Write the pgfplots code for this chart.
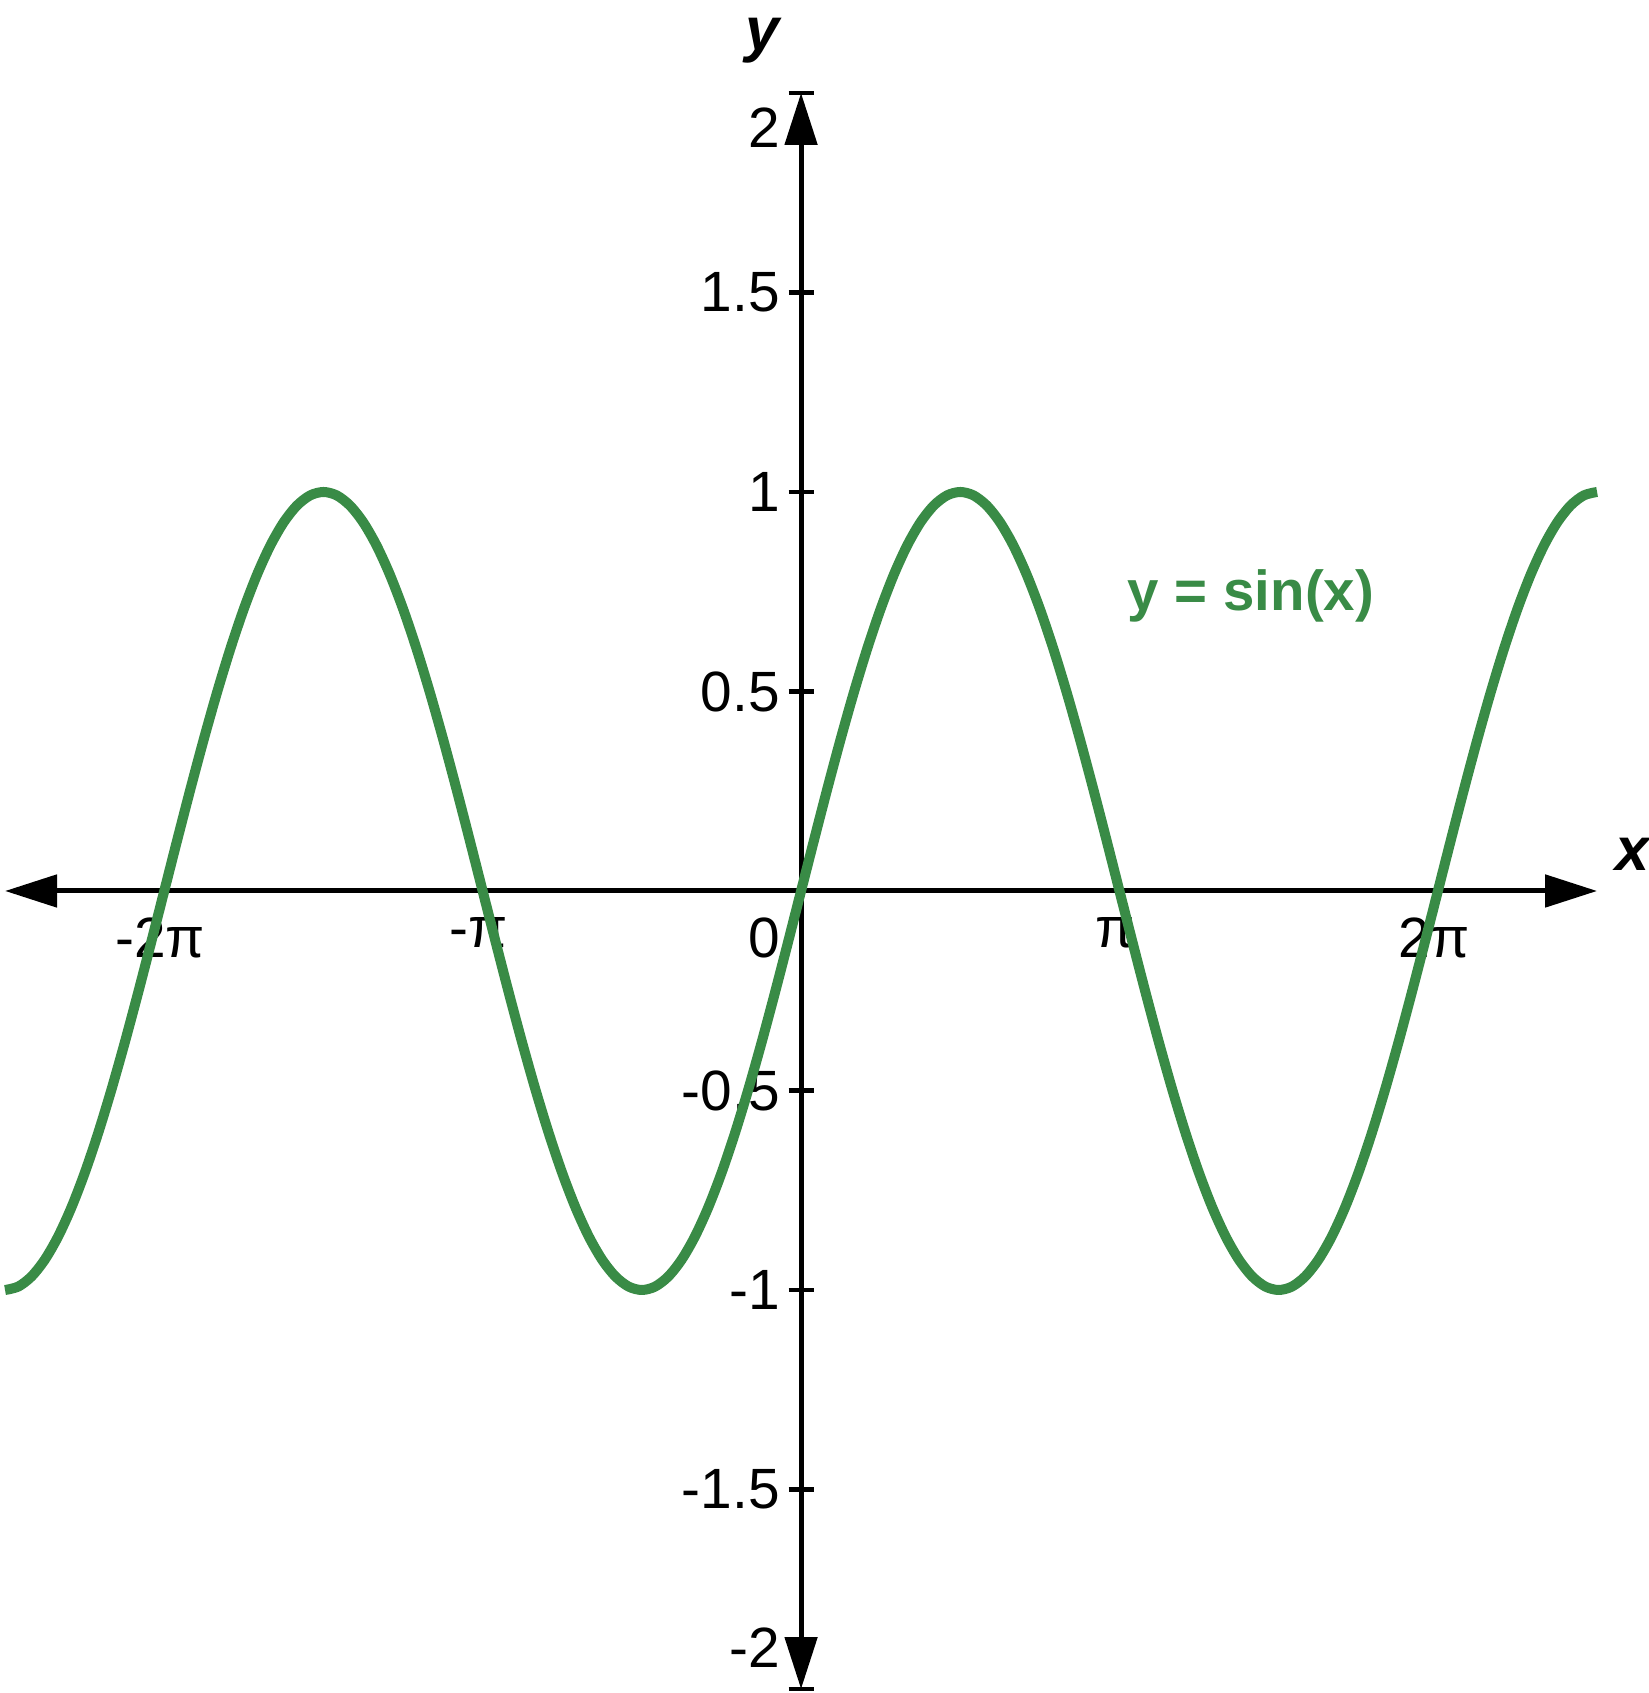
\documentclass[border=0pt]{standalone}
\usepackage{pgfplots}
\pgfplotsset{compat=1.18}
\usepackage{pgfplotstable}
\usepackage{fontspec}
\setmainfont{Liberation Sans}
\usetikzlibrary{arrows.meta}
\definecolor{sgreen}{RGB}{57,139,70}
% x in units of pi/12
\pgfplotstableread{
x y
-30 -1
-29.5 -0.991445
-29 -0.965926
-28.5 -0.923880
-28 -0.866025
-27.5 -0.793353
-27 -0.707107
-26.5 -0.608761
-26 -0.5
-25.5 -0.382683
-25 -0.258819
-24.5 -0.130526
-24 0
-23.5 0.130526
-23 0.258819
-22.5 0.382683
-22 0.5
-21.5 0.608761
-21 0.707107
-20.5 0.793353
-20 0.866025
-19.5 0.923880
-19 0.965926
-18.5 0.991445
-18 1
-17.5 0.991445
-17 0.965926
-16.5 0.923880
-16 0.866025
-15.5 0.793353
-15 0.707107
-14.5 0.608761
-14 0.5
-13.5 0.382683
-13 0.258819
-12.5 0.130526
-12 0
-11.5 -0.130526
-11 -0.258819
-10.5 -0.382683
-10 -0.5
-9.5 -0.608761
-9 -0.707107
-8.5 -0.793353
-8 -0.866025
-7.5 -0.923880
-7 -0.965926
-6.5 -0.991445
-6 -1
-5.5 -0.991445
-5 -0.965926
-4.5 -0.923880
-4 -0.866025
-3.5 -0.793353
-3 -0.707107
-2.5 -0.608761
-2 -0.5
-1.5 -0.382683
-1 -0.258819
-0.5 -0.130526
0 0
0.5 0.130526
1 0.258819
1.5 0.382683
2 0.5
2.5 0.608761
3 0.707107
3.5 0.793353
4 0.866025
4.5 0.923880
5 0.965926
5.5 0.991445
6 1
6.5 0.991445
7 0.965926
7.5 0.923880
8 0.866025
8.5 0.793353
9 0.707107
9.5 0.608761
10 0.5
10.5 0.382683
11 0.258819
11.5 0.130526
12 0
12.5 -0.130526
13 -0.258819
13.5 -0.382683
14 -0.5
14.5 -0.608761
15 -0.707107
15.5 -0.793353
16 -0.866025
16.5 -0.923880
17 -0.965926
17.5 -0.991445
18 -1
18.5 -0.991445
19 -0.965926
19.5 -0.923880
20 -0.866025
20.5 -0.793353
21 -0.707107
21.5 -0.608761
22 -0.5
22.5 -0.382683
23 -0.258819
23.5 -0.130526
24 0
24.5 0.130526
25 0.258819
25.5 0.382683
26 0.5
26.5 0.608761
27 0.707107
27.5 0.793353
28 0.866025
28.5 0.923880
29 0.965926
29.5 0.991445
30 1
}\sinedata
\begin{document}
\begin{tikzpicture}
\begin{axis}[
  scale only axis, width=398pt, height=399pt,
  axis lines=middle,
  xmin=-30, xmax=30, ymin=-2, ymax=2,
  enlargelimits=false,
  clip=false,
  axis line style={line width=1.25pt,
    {Triangle[length=13pt,width=8pt]}-{Triangle[length=13pt,width=8pt]}},
  xtick={-24,-12,12,24},
  xticklabels={-2π,-π,π,2π},
  xtick style={draw=none},
  xticklabel style={anchor=north, inner sep=0pt, yshift=-3.4pt, xshift=-1pt, font=\fontsize{14.2}{17}\selectfont},
  ytick={-2,-1.5,-1,-0.5,0.5,1,1.5,2},
  yticklabels={,-1.5,-1,-0.5,0.5,1,1.5,},
  ytick align=center,
  major tick length=6.25pt,
  ytick style={line width=1.1pt, black},
  yticklabel style={anchor=east, inner sep=0pt, xshift=-2pt, font=\fontsize{14.2}{17}\selectfont},
  hide obscured x ticks=false,
  hide obscured y ticks=false,
]
\addplot[sgreen, line width=2.5pt, smooth, line join=round] table[x=x, y=y] {\sinedata};
\node[anchor=base west, inner sep=0pt, text=sgreen, font=\fontsize{14.1}{17}\selectfont\bfseries] at (axis cs:12.29,0.704) {y = sin(x)};
\node[anchor=north east, inner sep=0pt, xshift=-5pt, yshift=-6.5pt, font=\fontsize{14.2}{17}\selectfont] at (axis cs:0,0) {0};
\node[anchor=east, inner sep=0pt, xshift=-5pt, font=\fontsize{14.2}{17}\selectfont] at (axis cs:0,1.913) {2};
\node[anchor=east, inner sep=0pt, xshift=-5pt, font=\fontsize{14.2}{17}\selectfont] at (axis cs:0,-1.897) {-2};
\node[inner sep=0pt, font=\fontsize{15.3}{18}\selectfont\bfseries\itshape] at (axis cs:31.32,0.093) {x};
\node[inner sep=0pt, font=\fontsize{15.3}{18}\selectfont\bfseries\itshape] at (axis cs:-1.47,2.130) {y};
\coordinate (bbl) at (axis cs:-30.19,-2.010);
\coordinate (bbr) at (axis cs:31.92,2.233);
\end{axis}
\pgfresetboundingbox
\path[use as bounding box] (bbl) rectangle (bbr);
\end{tikzpicture}
\end{document}
